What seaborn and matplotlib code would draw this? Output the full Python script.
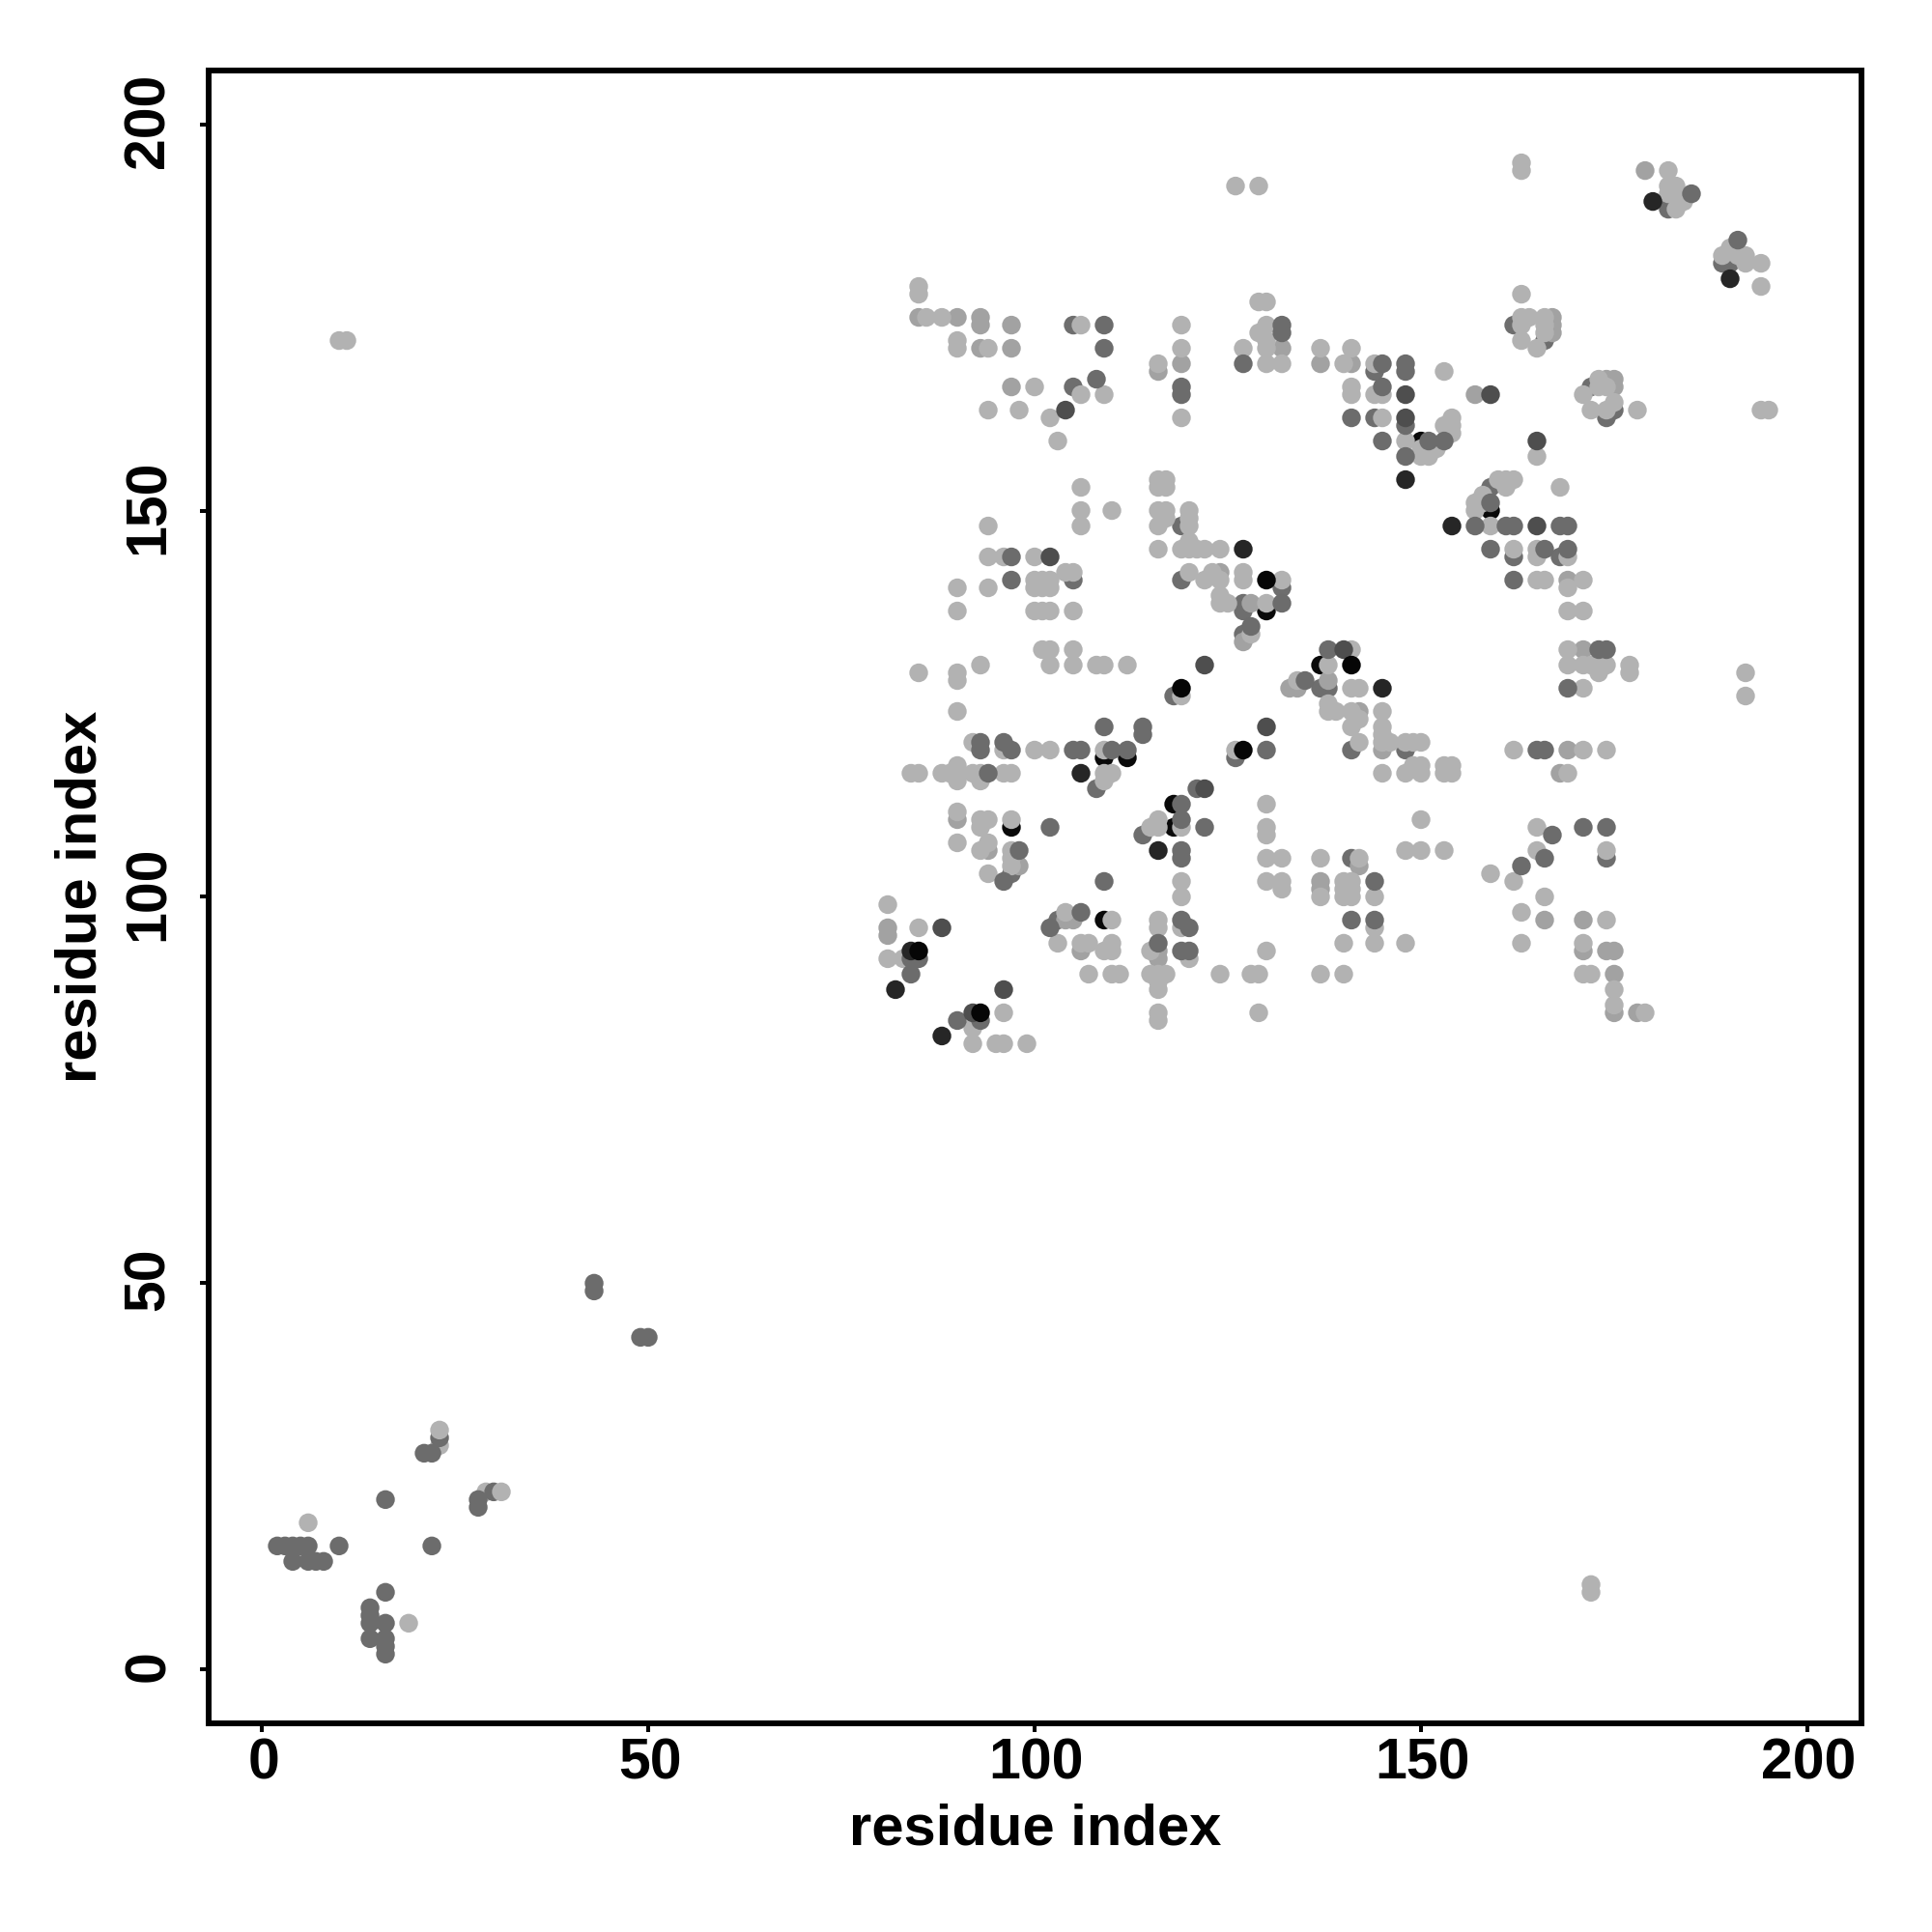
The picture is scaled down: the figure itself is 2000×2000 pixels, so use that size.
import pandas as pd
import seaborn as sns
import matplotlib.pyplot as plt
from matplotlib.transforms import ScaledTranslation

# contacts (residue i, residue j), listed by grey level, in drawing order
black_under = [(159,150),(130,137),(109,118),(112,118),(97,109),(118,109),(118,112),(109,97),
               (190,183),(183,190),(150,159),(137,130)]
dark_under = [(105,174),(105,166),(119,148),(162,174),(162,144),(168,144),(172,166),(174,162),
              (175,163),(182,190),(182,189),(189,182),(190,182),(119,141),(126,118),(118,126),
              (141,119),(148,119),(105,141),(127,137),(127,138),(127,134),(144,162),(144,168),
              (166,172),(141,105),(174,105),(108,114),(114,108),(103,97),(97,103),(159,153),
              (137,127),(138,127),(132,140)]
medium = [(85,175),(90,175),(93,175),(93,174),(97,174),(97,171),(93,171),(119,169),(132,171),
          (141,169),(137,169),(97,166),(81,96),(81,95),(116,168),(124,142),(128,138),(127,133),
          (142,124),(145,119),(138,128),(169,141),(171,132),(169,119),(157,165),(116,93),(116,92),
          (90,110),(171,97),(166,97),(171,93),(174,93),(175,93),(175,90),(175,85),(137,101),
          (137,102),(142,104),(94,106),(106,93),(104,97),(105,97),(178,85),(168,116),(167,175),
          (167,174),(167,173),(174,167),(175,167),(175,166),(133,127),(134,127),(179,194),
          (98,104)]
light = [(126,192),(129,192),(163,195),(163,194),(182,194),(182,192),(183,192),(182,191),(183,191),
         (183,189),(184,190),(190,184),(189,183),(191,183),(192,183),(192,182),(194,182),(194,179),
         (85,179),(85,178),(86,175),(88,175),(90,172),(90,171),(94,171),(106,174),(119,174),(119,171),
         (116,169),(130,177),(129,177),(130,174),(129,173),(130,172),(130,171),(127,171),(130,169),
         (132,169),(137,171),(141,171),(140,169),(144,169),(163,178),(163,175),(164,175),(163,174),
         (166,175),(166,174),(166,173),(163,172),(165,171),(153,168),(100,166),(106,165),(109,165),
         (119,162),(94,163),(98,163),(102,162),(103,159),(141,166),(141,165),(144,165),(145,165),
         (145,162),(154,162),(153,161),(154,161),(154,160),(148,159),(150,157),(151,157),(150,158),
         (151,158),(152,158),(165,157),(173,167),(173,166),(174,166),(171,165),(175,164),(174,163),
         (172,163),(178,163),(194,163),(195,163),(106,153),(116,154),(117,154),(116,153),(117,153),
         (161,153),(160,154),(161,154),(162,154),(168,153),(158,152),(157,151),(158,151),(157,150),
         (106,150),(110,150),(116,150),(117,150),(117,149),(120,150),(120,149),(120,148),(116,148),
         (106,148),(94,148),(159,148),(116,145),(119,145),(120,146),(120,145),(121,145),(122,145),
         (124,145),(94,144),(96,144),(100,144),(162,145),(165,145),(165,144),(169,144),(94,140),
         (90,140),(100,141),(101,141),(102,141),(100,140),(101,140),(102,140),(104,142),(105,142),
         (120,142),(122,141),(123,142),(124,141),(127,142),(127,141),(132,141),(165,141),(166,141),
         (171,141),(169,140),(124,139),(124,138),(125,138),(130,138),(90,137),(100,137),(101,137),
         (102,137),(105,137),(169,137),(171,137),(128,134),(101,132),(102,132),(105,132),(169,132),
         (141,132),(102,130),(105,130),(108,130),(109,130),(112,130),(93,130),(138,130),(169,130),
         (171,130),(172,130),(173,130),(174,130),(173,129),(177,130),(177,129),(85,129),(90,129),
         (90,128),(192,129),(192,126),(119,126),(134,128),(141,127),(142,127),(171,127),(90,124),
         (138,125),(138,124),(139,124),(141,124),(142,123),(141,122),(145,124),(145,122),(145,121),
         (146,120),(145,120),(142,120),(148,120),(149,120),(150,120),(92,120),(96,119),(100,119),
         (102,119),(109,119),(126,119),(162,119),(171,119),(174,119),(84,116),(85,116),(88,116),
         (89,116),(90,117),(90,116),(90,115),(92,116),(93,116),(93,115),(96,116),(97,116),(109,116),
         (110,116),(109,115),(145,116),(148,116),(150,116),(149,117),(150,117),(153,117),(154,117),
         (153,116),(154,116),(169,116),(130,112),(90,111),(93,110),(94,110),(93,109),(97,110),
         (115,109),(116,110),(116,109),(119,109),(130,109),(130,108),(150,110),(165,109),(90,107),
         (93,106),(94,107),(97,106),(97,105),(97,104),(94,103),(130,105),(132,105),(137,105),(142,105),
         (148,106),(150,106),(153,106),(165,106),(159,103),(162,102),(174,106),(130,102),(132,102),
         (132,101),(119,102),(119,100),(137,100),(140,102),(141,102),(140,101),(141,101),(140,100),
         (141,100),(144,100),(166,100),(163,98),(81,99),(85,96),(104,98),(110,97),(116,97),(116,96),
         (119,96),(103,94),(106,94),(107,94),(110,94),(110,93),(109,93),(115,93),(120,92),(130,93),
         (140,94),(144,94),(144,96),(148,94),(163,94),(171,94),(174,97),(81,92),(83,92),(107,90),
         (110,90),(111,90),(115,90),(116,90),(117,90),(116,89),(116,88),(124,90),(128,90),(129,90),
         (137,90),(140,90),(171,90),(172,90),(175,88),(175,86),(116,85),(116,84),(129,85),(96,85),
         (92,83),(92,81),(95,81),(96,81),(99,81),(179,85),(10,172),(11,172),(172,11),(172,10),
         (6,19),(19,6),(23,29),(29,23)]
dark_top = [(109,174),(109,171),(132,174),(132,173),(127,169),(145,169),(148,169),(148,168),
            (145,166),(119,166),(119,165),(108,167),(145,159),(148,157),(151,159),(153,159),
            (141,162),(148,161),(97,144),(97,141),(132,138),(128,135),(138,132),(169,127),
            (173,132),(174,132),(165,119),(166,119),(167,108),(171,109),(174,109),(163,104),
            (166,105),(162,141),(159,145),(157,148),(161,148),(162,148),(168,148),(169,148),
            (159,151),(166,145),(169,145),(135,128),(109,122),(114,122),(114,121),(93,120),
            (93,119),(96,120),(97,119),(105,119),(106,119),(110,119),(112,119),(94,116),
            (130,119),(121,114),(119,112),(119,110),(122,109),(102,109),(109,102),(119,106),
            (119,105),(96,102),(98,106),(102,96),(106,98),(119,97),(120,96),(119,93),(120,93),
            (116,94),(141,97),(144,97),(144,102),(84,92),(85,92),(84,90),(90,84),(93,84),
            (185,191),(191,185),(43,50),(43,49),(49,43),(50,43),(23,30),(21,28),(22,28),(16,22),
            (28,22),(28,21),(30,23),(2,16),(3,16),(4,16),(5,16),(6,16),(10,16),(22,16),(4,14),
            (6,14),(7,14),(8,14),(16,10),(14,8),(14,7),(14,6),(16,6),(14,4),(16,4),(16,3),(16,2)]
slate_top = [(102,144),(130,122),(122,130),(122,114),(88,96),(96,88),(165,148),(92,85),
             (104,163),(159,165),(165,159),(148,165),(148,162),(140,132)]
charcoal_top = [(127,145),(148,154),(154,148),(180,190),(190,180),(82,88),(88,82),(106,116),
                (116,106),(145,127),(84,93)]
black_top = [(130,141),(141,130),(119,127),(127,119),(85,93),(93,85)]
light_top = [(23,31),(31,23)]

shade_groups = ['black_under', 'dark_under', 'medium', 'light', 'dark_top',
                'slate_top', 'charcoal_top', 'black_top', 'light_top']
shade_points = [black_under, dark_under, medium, light, dark_top,
                slate_top, charcoal_top, black_top, light_top]
shade_colors = ['#0a0a0a', '#6e6e6e', '#a2a2a2', '#b2b2b2', '#6c6c6c',
                '#4e4e4e', '#262626', '#060606', '#b2b2b2']

x_ticks = [0, 50, 100, 150, 200]
y_ticks = [0, 50, 100, 150, 200]
axis_label = 'residue index'

rows = []
for name, pts in zip(shade_groups, shade_points):
    for i, j in pts:
        rows.append({'i': i, 'j': j, 'shade': name})
df = pd.DataFrame(rows)

sns.set_theme(style='white')
plt.rcParams['font.family'] = ['Liberation Sans', 'DejaVu Sans']

fig = plt.figure(figsize=(20, 20), dpi=100)
ax = fig.add_axes([216/2000, 1 - 1784/2000, 1711/2000, 1711/2000])

sns.scatterplot(data=df, x='i', y='j', hue='shade', hue_order=shade_groups,
                palette=shade_colors, s=195, linewidth=0, legend=False, ax=ax)

ax.set_xlim(-6.88, 207)
ax.set_ylim(-6.96, 206.95)
ax.set_xticks(x_ticks)
ax.set_yticks(y_ticks)
ax.tick_params(axis='both', length=6.5, width=2.9, color='black', labelsize=42.5,
               labelcolor='black', left=True, bottom=True)
ax.tick_params(axis='x', pad=4)
ax.tick_params(axis='y', pad=18)
nudge_x = ScaledTranslation(1.5/100, 0, fig.dpi_scale_trans)
nudge_y = ScaledTranslation(0, 4/100, fig.dpi_scale_trans)
for lab in ax.get_xticklabels():
    lab.set_fontweight('bold')
    lab.set_transform(lab.get_transform() + nudge_x)
for lab in ax.get_yticklabels():
    lab.set_fontweight('bold')
    lab.set_rotation(90)
    lab.set_va('center')
    lab.set_transform(lab.get_transform() + nudge_y)

ax.set_xlabel(axis_label, fontsize=43, fontweight='bold', color='black', labelpad=9.5)
ax.set_ylabel(axis_label, fontsize=43, fontweight='bold', color='black', labelpad=11)
for side in ax.spines.values():
    side.set_visible(True)
    side.set_color('black')
    side.set_linewidth(4.3)

fig.savefig('out.png', dpi=100, facecolor='white')
